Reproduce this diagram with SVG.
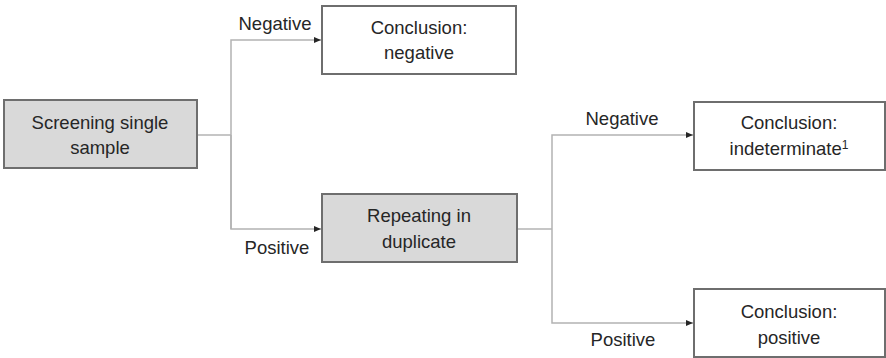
<svg xmlns="http://www.w3.org/2000/svg" width="886" height="358" viewBox="0 0 886 358">
<style>
.box{stroke:#6e6e6e;stroke-width:2}
.grey{fill:#d9d9d9}
.white{fill:#ffffff}
.t{font-family:"Liberation Sans",Arial,sans-serif;font-size:18.5px;fill:#262626;text-anchor:middle}
.c{fill:none;stroke:#b3b3b3;stroke-width:1.5}
</style>
<defs>
<marker id="ah" markerWidth="8" markerHeight="8" refX="7" refY="4" orient="auto" markerUnits="userSpaceOnUse">
<path d="M0,1 L7,4 L0,7 Z" fill="#262626"/>
</marker>
</defs>
<rect width="886" height="358" fill="#ffffff"/>
<g id="connectors">
<path class="c" d="M197,135 H231"/>
<path class="c" d="M231,229 V40 H321" marker-end="url(#ah)"/>
<path class="c" d="M231,135 V229 H321" marker-end="url(#ah)"/>
<path class="c" d="M517,229 H552"/>
<path class="c" d="M552,229 V135 H693" marker-end="url(#ah)"/>
<path class="c" d="M552,229 V323 H693" marker-end="url(#ah)"/>
<text class="t" x="275" y="30">Negative</text>
<text class="t" x="277" y="254">Positive</text>
<text class="t" x="622" y="125">Negative</text>
<text class="t" x="623" y="346">Positive</text>
</g>
<g id="screening">
<rect class="box grey" x="4" y="100" width="193" height="68"/>
<text class="t" x="100" y="129">Screening single</text>
<text class="t" x="100" y="154">sample</text>
</g>
<g id="concl-negative">
<rect class="box white" x="322" y="6" width="194" height="68"/>
<text class="t" x="419" y="34">Conclusion:</text>
<text class="t" x="419" y="59">negative</text>
</g>
<g id="repeating">
<rect class="box grey" x="322" y="194" width="195" height="68"/>
<text class="t" x="419" y="222">Repeating in</text>
<text class="t" x="419" y="248">duplicate</text>
</g>
<g id="concl-indeterminate">
<rect class="box white" x="694" y="102" width="191" height="68"/>
<text class="t" x="789" y="129">Conclusion:</text>
<text class="t" x="789" y="155">indeterminate<tspan font-size="12" dy="-6">1</tspan></text>
</g>
<g id="concl-positive">
<rect class="box white" x="694" y="289" width="191" height="68"/>
<text class="t" x="789" y="318">Conclusion:</text>
<text class="t" x="789" y="344">positive</text>
</g>
</svg>
